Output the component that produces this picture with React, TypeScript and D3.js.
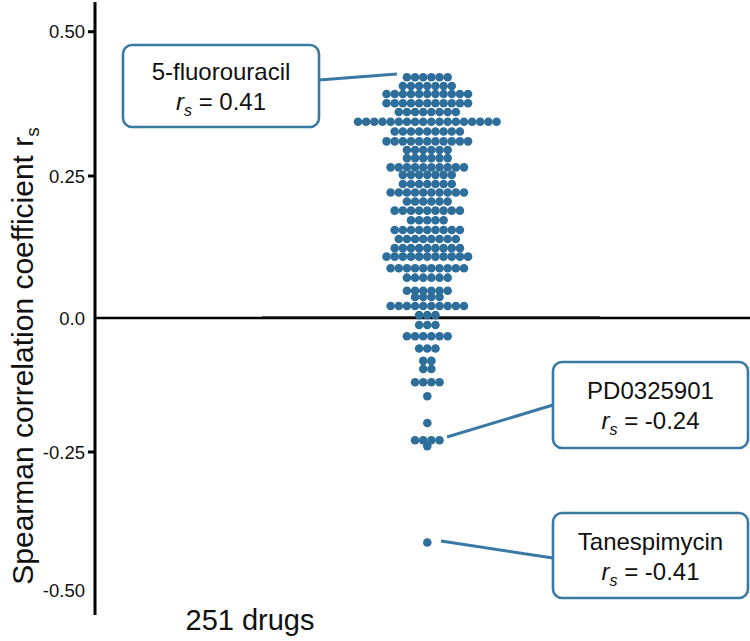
import React from "react";
import * as d3 from "d3";

// Binned beeswarm rows: correlation value of each row and number of drugs in it
const rowValues = [
  0.421, 0.406, 0.392, 0.376, 0.361, 0.344, 0.327, 0.31, 0.295, 0.281, 0.265, 0.252,
  0.236, 0.221, 0.205, 0.189, 0.172, 0.155, 0.139, 0.123, 0.108, 0.0875, 0.071,
  0.048, 0.037, 0.021, 0.005, -0.013, -0.034, -0.057, -0.08, -0.095, -0.12, -0.146,
  -0.196, -0.228, -0.239, -0.414,
];
const rowCounts = [
  6, 7, 11, 11, 8, 18, 9, 11, 6, 6, 10, 7,
  7, 10, 6, 9, 5, 9, 8, 9, 11, 10, 6,
  6, 4, 10, 3, 3, 6, 3, 2, 2, 4, 1,
  1, 4, 1, 1,
];
const tickValues = [0.5, 0.25, 0, -0.25, -0.5];
const tickLabels = ["0.50", "0.25", "0.0", "-0.25", "-0.50"];
const tickMarks = [0.5, 0.25, -0.25];

const annotations = [
  { name: "5-fluorouracil", value: "0.41" },
  { name: "PD0325901", value: "-0.24" },
  { name: "Tanespimycin", value: "-0.41" },
];

const W = 750;
const H = 641;
const DOT = "#2e6e9b";
const BOX = "#3b79a5";
const FONT = "'Liberation Sans', Arial, sans-serif";

export default function App() {
  const y = d3
    .scaleLinear()
    .domain([-0.5, -0.25, 0, 0.25, 0.5])
    .range([590, 452, 318, 176, 31.7]);
  const axisX = 95;
  const cx = 427.3;
  const step = 8.15;

  const dots: { x: number; y: number }[] = [];
  rowValues.forEach((v, r) => {
    const n = rowCounts[r];
    for (let i = 0; i < n; i++) {
      dots.push({ x: cx + (i - (n - 1) / 2) * step, y: y(v) });
    }
  });

  const boxes = [
    { x: 123, y: 45, w: 196, h: 82, lx1: 319, ly1: 80, lx2: 397, ly2: 74 },
    { x: 553, y: 362, w: 195, h: 86, lx1: 553, ly1: 405, lx2: 447, ly2: 437 },
    { x: 553, y: 513, w: 195, h: 85, lx1: 553, ly1: 558, lx2: 441, ly2: 541 },
  ];

  return (
    <svg
      width={W}
      height={H}
      style={{ position: "absolute", left: 0, top: 0, background: "#fff" }}
      fontFamily={FONT}
    >
      {/* zero line */}
      <line x1={axisX} x2={W} y1={y(0)} y2={y(0)} stroke="#000" strokeWidth={2.6} />
      <line x1={262} x2={600} y1={y(0) - 1.2} y2={y(0) - 1.2} stroke="#222" strokeWidth={1.2} />

      {/* dots */}
      {dots.map((d, i) => (
        <circle key={i} cx={d.x} cy={d.y} r={4.3} fill={DOT} />
      ))}

      {/* y axis */}
      <line x1={axisX} x2={axisX} y1={2} y2={615} stroke="#000" strokeWidth={3} />
      {tickMarks.map((t) => (
        <line key={t} x1={88} x2={axisX} y1={y(t)} y2={y(t)} stroke="#000" strokeWidth={3} />
      ))}
      {tickValues.map((t, i) => (
        <text
          key={t}
          x={85}
          y={y(t)}
          textAnchor="end"
          dominantBaseline="central"
          fontSize={18.5}
          fill="#111"
        >
          {tickLabels[i]}
        </text>
      ))}

      {/* y title */}
      <text
        transform={`translate(33, 356) rotate(-90)`}
        textAnchor="middle"
        fontSize={30}
        fill="#111"
      >
        Spearman correlation coefficient r
        <tspan fontSize={19} dy={6}>s</tspan>
      </text>

      {/* x label */}
      <text x={250} y={630} textAnchor="middle" fontSize={29} fill="#111">
        251 drugs
      </text>

      {/* annotations */}
      {boxes.map((b, i) => (
        <g key={i}>
          <line x1={b.lx1} y1={b.ly1} x2={b.lx2} y2={b.ly2} stroke={BOX} strokeWidth={3} />
          <rect
            x={b.x}
            y={b.y}
            width={b.w}
            height={b.h}
            rx={9}
            fill="#fff"
            stroke={BOX}
            strokeWidth={2.6}
          />
          <text
            x={b.x + b.w / 2}
            y={b.y + b.h / 2 - 6}
            textAnchor="middle"
            fontSize={24}
            fill="#111"
          >
            {annotations[i].name}
          </text>
          <text
            x={b.x + b.w / 2}
            y={b.y + b.h / 2 + 24}
            textAnchor="middle"
            fontSize={24}
            fill="#111"
          >
            <tspan fontStyle="italic">r</tspan>
            <tspan fontStyle="italic" fontSize={16} dy={6}>s</tspan>
            <tspan dy={-6}>{` = ${annotations[i].value}`}</tspan>
          </text>
        </g>
      ))}
    </svg>
  );
}
